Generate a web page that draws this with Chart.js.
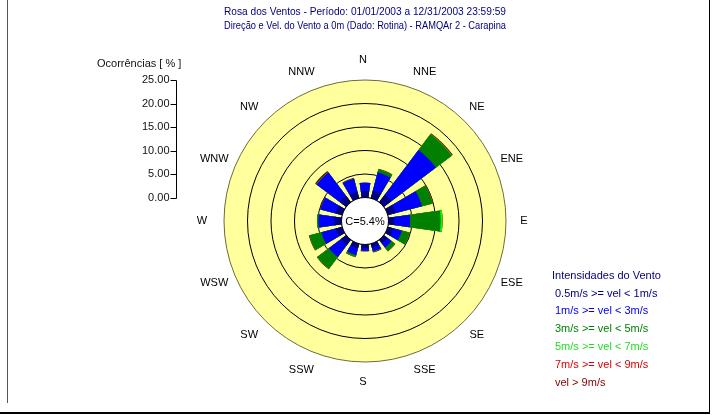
<!DOCTYPE html>
<html>
<head>
<meta charset="utf-8">
<title>Rosa dos Ventos</title>
<script src="https://cdn.jsdelivr.net/npm/chart.js@4"></script>
<style>
  html, body { margin: 0; padding: 0; background: #fff; }
  #wrap { position: relative; width: 712px; height: 415px; overflow: hidden; }
  #rose { position: absolute; left: 0; top: 0; }
  .edge { position: absolute; background: #000; }
</style>
</head>
<body>
<div id="wrap">
  <canvas id="rose" width="712" height="415"></canvas>
  <div class="edge" style="left:7px;top:0;width:1px;height:403px;background:#555"></div>
  <div class="edge" style="left:709px;top:0;width:1px;height:413px"></div>
  <div class="edge" style="left:0;top:412px;width:710px;height:2px"></div>
</div>
<script>
// directions, clockwise from north
const directions = ['N', 'NNE', 'NE', 'ENE', 'E', 'ESE', 'SE', 'SSE',
  'S', 'SSW', 'SW', 'WSW', 'W', 'WNW', 'NW', 'NNW'];

// occurrences [%] per direction for each speed class
const vel05to1 = [1.4, 1.7, 2.0, 1.7, 1.2, 1.2, 1.0, 0.9, 0.8, 1.0, 1.4, 1.4, 1.5, 1.4, 1.7, 1.4];
const vel1to3 = [1.75, 4.0, 11.9, 5.8, 3.4, 1.9, 1.1, 0.8, 0.55, 1.5, 3.2, 3.2, 3.4, 3.4, 6.2, 2.9];
const vel3to5 = [0, 0.65, 4.2, 2.4, 6.5, 1.7, 0.9, 0.1, 0, 0.4, 3.1, 2.6, 0.3, 0, 0.1, 0];
const vel5to7 = [0, 0, 0.1, 0, 0.4, 0, 0, 0, 0, 0, 0, 0, 0, 0, 0, 0];
const vel7to9 = [0, 0.05, 0.05, 0.05, 0, 0.05, 0.05, 0.05, 0.05, 0, 0.05, 0.05, 0, 0.05, 0.1, 0.05];
const velAbove9 = [0, 0.1, 0.15, 0.12, 0, 0.05, 0.05, 0.1, 0.1, 0.05, 0.1, 0.1, 0, 0.1, 0.2, 0.15];

const speedClasses = ['0.5m/s >= vel < 1m/s', '1m/s >= vel < 3m/s', '3m/s >= vel < 5m/s',
  '5m/s >= vel < 7m/s', '7m/s >= vel < 9m/s', 'vel > 9m/s'];
const classColors = ['#000080', '#0000ff', '#007f00', '#00ff00', '#cc0000', '#800000'];
const legendColors = ['#000080', '#0000ee', '#007f00', '#22dd22', '#dd0000', '#800000'];

const calmPercent = 5.4;
const axisTitle = 'Ocorrências [ % ]';
const legendTitle = 'Intensidades do Vento';
const titleLines = [
  'Rosa dos Ventos - Período: 01/01/2003 a 12/31/2003 23:59:59',
  'Direção e Vel. do Vento a 0m (Dado: Rotina) - RAMQAr 2 - Carapina'
];

const FONT = '"Liberation Sans", Arial, sans-serif';
const WEDGE = 16;                     // degrees of each petal
const GAP = 360 / directions.length - WEDGE;

// stacked totals: dataset k reaches up to the end of class k
const byClass = [vel05to1, vel1to3, vel3to5, vel5to7, vel7to9, velAbove9];
const stacked = byClass.map((_, k) => directions.map((d, i) =>
  byClass.slice(0, k + 1).reduce((s, arr) => s + arr[i], 0)));

// every petal is followed by an empty gap slice
const labels = directions.flatMap((d) => [d, '']);

const roseDecor = {
  id: 'roseDecor',
  afterDatasetsDraw(chart) {
    const { ctx } = chart;
    const r = chart.scales.r;
    const cx = r.xCenter;
    const cy = r.yCenter;
    ctx.save();

    // calm circle
    const rc = r.getDistanceFromCenterForValue(0);
    ctx.beginPath();
    ctx.arc(cx, cy, rc, 0, Math.PI * 2);
    ctx.fillStyle = '#fff';
    ctx.fill();
    ctx.strokeStyle = '#000';
    ctx.lineWidth = 1;
    ctx.stroke();
    ctx.fillStyle = '#000';
    ctx.font = '11px ' + FONT;
    ctx.textAlign = 'center';
    ctx.textBaseline = 'middle';
    ctx.fillText('C=' + calmPercent.toFixed(1) + '%', cx, cy + 1);

    // compass labels
    const lr = r.drawingArea + 20;
    directions.forEach((d, i) => {
      const a = (i * 360 / directions.length - 90) * Math.PI / 180;
      ctx.fillText(d, cx - 2 + lr * Math.cos(a), cy + lr * Math.sin(a));
    });

    // left axis, same radial scale projected on a vertical line
    const ax = 176.5;
    const ticks = r.ticks.filter((t) => t.value >= 0);
    ctx.strokeStyle = '#000';
    ctx.beginPath();
    ctx.moveTo(ax, Math.round(cy - r.getDistanceFromCenterForValue(r.max)) + 0.5);
    ctx.lineTo(ax, Math.round(cy - r.getDistanceFromCenterForValue(0)) + 0.5);
    ticks.forEach((t) => {
      const y = Math.round(cy - r.getDistanceFromCenterForValue(t.value)) + 0.5;
      ctx.moveTo(ax - 6, y);
      ctx.lineTo(ax, y);
    });
    ctx.stroke();
    ctx.textAlign = 'right';
    ctx.fillStyle = '#111';
    ticks.forEach((t) => {
      const y = cy - r.getDistanceFromCenterForValue(t.value);
      ctx.fillText(t.value.toFixed(2), ax - 7, y);
    });
    ctx.textAlign = 'left';
    ctx.fillText(axisTitle, 97, 64);

    // legend
    ctx.fillStyle = '#000080';
    ctx.fillText(legendTitle, 552, 276);
    speedClasses.forEach((s, i) => {
      ctx.fillStyle = legendColors[i];
      ctx.fillText(s, 555, 293.5 + i * 17.8);
    });
    ctx.restore();
  }
};

new Chart(document.getElementById('rose'), {
  type: 'polarArea',
  data: {
    labels,
    datasets: stacked.map((vals, k) => ({
      label: speedClasses[k],
      data: vals.flatMap((v) => [v, 0]),
      angle: (c) => (c.dataIndex % 2 ? GAP : WEDGE),
      backgroundColor: (c) => (c.dataIndex % 2 ? 'rgba(0,0,0,0)' : classColors[k]),
      borderWidth: 0,
    })),
  },
  options: {
    responsive: false,
    animation: false,
    layout: { padding: { left: 224, right: 206, top: 0, bottom: 53 } },
    scales: {
      r: {
        min: -5,
        max: 25,
        startAngle: -WEDGE / 2,
        backgroundColor: '#ffff9e',
        ticks: { display: false, stepSize: 5 },
        grid: {
          circular: true,
          lineWidth: 1,
          color: (c) => (c.tick && c.tick.value === 25 ? '#6b6b3a' : '#000'),
        },
        angleLines: { display: false },
        pointLabels: { display: false },
      },
    },
    plugins: {
      legend: { display: false },
      tooltip: { enabled: false },
      title: {
        display: true,
        text: titleLines,
        color: '#000080',
        font: { family: FONT, size: 11, weight: 'normal', lineHeight: '14px' },
        padding: { top: 5, bottom: 47 },
      },
    },
  },
  plugins: [roseDecor],
});
</script>
</body>
</html>
